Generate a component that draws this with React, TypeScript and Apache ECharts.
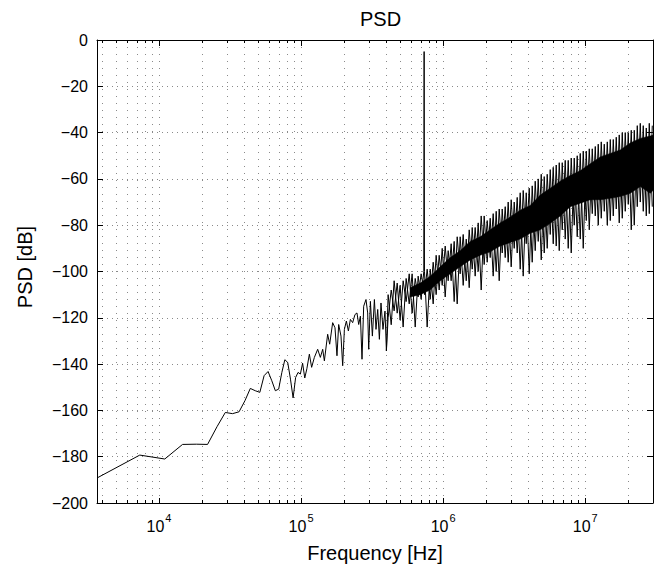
import React, { useEffect, useRef } from 'react';
import * as echarts from 'echarts';

// FFT bin width (fs / N) and x-axis range in Hz
const BIN_HZ = 3662.1;
const F_MIN = 3662.1;
const F_MAX = 3.0e7;

// Low-frequency part: one value per FFT bin (bin index k, f = k * BIN_HZ)
const lowBinIndex = [1, 2, 3, 4, 5, 6, 7, 8, 9, 10, 11, 12, 13, 14, 15, 16, 17, 18, 19, 20, 21, 22, 23, 24, 25, 26, 27, 28, 29, 30];
const lowBinDb = [-189.2, -179.3, -181.0, -174.7, -174.6, -174.7, -167.0, -160.9, -161.4, -160.6, -155.8, -150.5, -151.5, -152.2, -145.0, -143.2, -147.2, -151.5, -150.8, -143.6, -138.1, -139.3, -146.5, -154.6, -145.8, -143.6, -144.3, -139.6, -146.0, -142.0];

// Mid part (~1.1e5 .. 4e5 Hz)
const midFreqHz = [114400, 118700, 124100, 130900, 136700, 142000, 145900, 153900, 159000, 166900, 173300, 179000, 184000, 191000, 196300, 201800, 208400, 215300, 222400, 230800, 239600, 247500, 254500, 261600, 268500, 275900, 286400, 294400, 299300, 307600, 317700, 328200, 336900, 346300, 355900, 365300, 377300, 389700, 398700];
const midDb = [-135.7, -141.4, -137.1, -133.6, -137.1, -133.6, -138.6, -127.1, -131.4, -122.1, -124.3, -136.4, -122.9, -127.9, -140.7, -125.0, -121.4, -125.7, -120.7, -122.1, -118.6, -117.9, -122.9, -119.3, -137.9, -115.0, -112.1, -117.9, -133.6, -112.9, -127.9, -112.1, -125.0, -116.4, -129.3, -113.6, -125.0, -117.1, -134.3];

// Dense noisy part (>= 4e5 Hz): peaks / troughs of the trace, incl. the tone at ~735 kHz
const bandFreqHz = [410000, 431000, 452000, 475000, 498000, 523000, 549000, 577000, 605000, 636000, 667000, 700000, 731000, 735000, 739000, 772000, 811000, 851000, 893000, 938000, 985000, 1034000, 1085000, 1139000, 1196000, 1256000, 1318000, 1384000, 1454000, 1526000, 1602000, 1681000, 1765000, 1853000, 1945000, 2042000, 2144000, 2251000, 2363000, 2481000, 2605000, 2735000, 2870000, 3013000, 3164000, 3322000, 3487000, 3661000, 3844000, 4036000, 4236000, 4447000, 4670000, 4903000, 5146000, 5402000, 5672000, 5955000, 6251000, 6564000, 6892000, 7234000, 7594000, 7972000, 8371000, 8787000, 9226000, 9686000, 10170000, 10680000, 11210000, 11770000, 12350000, 12970000, 13620000, 14300000, 15010000, 15760000, 16540000, 17360000, 18230000, 19130000, 20090000, 21090000, 22140000, 23250000, 24410000, 25620000, 26900000, 28240000, 29650000];
const bandDbA = [-110, -123, -104, -118, -106, -124, -103, -114, -101, -124, -102, -112, -100, -5, -100, -124, -99, -114, -93, -108, -90, -111, -91, -104, -87, -114, -85, -106, -86, -107, -81, -102, -79, -108, -76, -96, -77, -102, -74, -104, -73, -94, -70, -98, -70, -92, -66, -102, -66, -101, -63, -91, -60, -95, -59, -90, -56, -88, -54, -91, -53, -86, -52, -92, -51, -85, -49, -90, -48, -82, -47, -76, -45, -77, -45, -80, -43, -76, -42, -79, -40, -74, -40, -82, -39, -72, -36, -74, -38, -75, -37];
const bandDbB = [-120, -108, -117, -105, -121, -104, -113, -101, -118, -103, -111, -101, -108, -104, -110, -99, -112, -96, -110, -93, -106, -89, -104, -88, -113, -85, -101, -84, -104, -82, -99, -81, -100, -76, -97, -78, -94, -75, -100, -73, -92, -72, -96, -69, -90, -68, -99, -65, -88, -64, -96, -61, -87, -58, -92, -58, -84, -55, -89, -53, -82, -52, -90, -51, -80, -50, -86, -48, -78, -47, -75, -46, -80, -44, -74, -44, -78, -43, -73, -41, -77, -40, -71, -39, -80, -37, -70, -37, -76, -36, -72];

// Solid core of the noise band (upper / lower edge)
const coreFreqHz = [586000, 689000, 811000, 953000, 1121000, 1318000, 1551000, 1823000, 2144000, 2519000, 2966000, 3487000, 4102000, 4824000, 5672000, 6673000, 7846000, 9226000, 10850000, 12770000, 15010000, 17650000, 20760000, 24410000, 28710000, 30000000];
const coreTopDb = [-107, -105, -102, -98, -94, -91, -87, -85, -82, -79, -76.5, -73.5, -71.5, -67, -64, -61, -58.5, -56.5, -53.5, -50.5, -49, -47.5, -44.5, -42.5, -41.5, -41];
const coreBottomDb = [-111, -110, -108, -104, -101, -98, -95, -93, -91.5, -89, -87.5, -86, -83.5, -82, -79.2, -76, -72, -70.5, -69, -69, -68.4, -67.6, -66.2, -63.3, -66.2, -65];

// Axis ticks
const decadeExponents = [4, 5, 6, 7];
const minorMultipliers = [1, 2, 3, 4, 5, 6, 7, 8, 9];
const tickDecades = [3, 4, 5, 6, 7];
const yTicks = { min: -200, max: 0, step: 20 };

const FONT = "'Liberation Sans', Arial, Helvetica, sans-serif";
const GRID_DOT = '#8a8a8a';

export default function App() {
  const ref = useRef<HTMLDivElement>(null);

  useEffect(() => {
    if (!ref.current) return;
    const chart = echarts.init(ref.current, undefined, { renderer: 'svg' });

    const logMin = Math.log10(F_MIN);
    const logMax = Math.log10(F_MAX);

    const tickLogs: number[] = [];
    tickDecades.forEach((d) => {
      minorMultipliers.forEach((m) => {
        const v = Math.log10(m) + d;
        if (v >= logMin - 1e-9 && v <= logMax + 1e-9) tickLogs.push(v);
      });
    });

    const trace: number[][] = [];
    lowBinIndex.forEach((k, i) => trace.push([Math.log10(k * BIN_HZ), lowBinDb[i]]));
    midFreqHz.forEach((f, i) => trace.push([Math.log10(f), midDb[i]]));
    bandFreqHz.forEach((f, i) => trace.push([Math.log10(f), bandDbA[i]]));

    const traceB: number[][] = [[Math.log10(midFreqHz[midFreqHz.length - 1]), midDb[midDb.length - 1]]];
    bandFreqHz.forEach((f, i) => traceB.push([Math.log10(f), bandDbB[i]]));

    const coreData = coreFreqHz.map((f, i) => [Math.log10(f), coreTopDb[i], coreBottomDb[i]]);

    const xBase = (extra: any) => ({
      type: 'value',
      min: logMin,
      max: logMax,
      ...extra,
    });

    const yBase = (extra: any) => ({
      type: 'value',
      min: yTicks.min,
      max: yTicks.max,
      interval: yTicks.step,
      ...extra,
    });

    const gridRect = { left: 97, right: 9, top: 40, bottom: 64, containLabel: false };

    const lineSeries = (data: number[][]) => ({
      type: 'line',
      xAxisIndex: 0,
      yAxisIndex: 0,
      data,
      showSymbol: false,
      symbol: 'none',
      silent: true,
      lineStyle: { color: '#000', width: 1 },
    });

    chart.setOption({
      animation: false,
      backgroundColor: '#fff',
      title: {
        text: 'PSD',
        left: 355,
        top: 4,
        textStyle: { fontFamily: FONT, fontSize: 20, fontWeight: 'normal', color: '#000' },
      },
      grid: [gridRect, gridRect],
      xAxis: [
        xBase({
          gridIndex: 0,
          position: 'bottom',
          axisLine: { show: true, onZero: false, lineStyle: { color: '#000', width: 1 } },
          axisTick: { show: true, inside: true, length: 3, customValues: tickLogs, lineStyle: { color: '#000', width: 1 } },
          axisLabel: {
            show: true,
            customValues: decadeExponents,
            margin: 9,
            formatter: (v: number) => `{b|10}{s|${Math.round(v)}}`,
            rich: {
              b: { fontFamily: FONT, fontSize: 16, color: '#000', verticalAlign: 'bottom', lineHeight: 22 },
              s: { fontFamily: FONT, fontSize: 11, color: '#000', verticalAlign: 'top', lineHeight: 22, padding: [0, 0, 0, 1] },
            },
          },
          splitLine: { show: true, lineStyle: { color: GRID_DOT, width: 1, type: [1, 6] } },
          name: 'Frequency [Hz]',
          nameLocation: 'middle',
          nameGap: 40,
          nameTextStyle: { fontFamily: FONT, fontSize: 20, color: '#000' },
        }),
        xBase({
          gridIndex: 0,
          position: 'top',
          axisLine: { show: true, onZero: false, lineStyle: { color: '#000', width: 1 } },
          axisTick: { show: true, inside: true, length: 3, customValues: tickLogs, lineStyle: { color: '#000', width: 1 } },
          axisLabel: { show: false },
          splitLine: { show: false },
        }),
        xBase({
          gridIndex: 1,
          position: 'bottom',
          axisLine: { show: false, onZero: false },
          axisTick: { show: true, inside: true, length: 6, customValues: decadeExponents, lineStyle: { color: '#000', width: 1 } },
          axisLabel: { show: false },
          splitLine: { show: false },
        }),
        xBase({
          gridIndex: 1,
          position: 'top',
          axisLine: { show: false, onZero: false },
          axisTick: { show: true, inside: true, length: 6, customValues: decadeExponents, lineStyle: { color: '#000', width: 1 } },
          axisLabel: { show: false },
          splitLine: { show: false },
        }),
      ],
      yAxis: [
        yBase({
          gridIndex: 0,
          position: 'left',
          axisLine: { show: true, onZero: false, lineStyle: { color: '#000', width: 1 } },
          axisTick: { show: true, inside: true, length: 6, lineStyle: { color: '#000', width: 1 } },
          axisLabel: {
            margin: 9,
            fontFamily: FONT,
            fontSize: 16,
            color: '#000',
            formatter: (v: number) => (v === 0 ? '0' : '\u2212' + Math.abs(v)),
          },
          splitLine: { show: true, lineStyle: { color: GRID_DOT, width: 1, type: [1, 4] } },
          name: 'PSD [dB]',
          nameLocation: 'middle',
          nameGap: 62,
          nameTextStyle: { fontFamily: FONT, fontSize: 20, color: '#000', padding: [0, 0, 0, 9] },
        }),
        yBase({
          gridIndex: 0,
          position: 'right',
          axisLine: { show: true, onZero: false, lineStyle: { color: '#000', width: 1 } },
          axisTick: { show: true, inside: true, length: 6, lineStyle: { color: '#000', width: 1 } },
          axisLabel: { show: false },
          splitLine: { show: false },
        }),
        yBase({ gridIndex: 1, show: false }),
        yBase({ gridIndex: 1, show: false, position: 'right' }),
      ],
      series: [
        {
          type: 'custom',
          xAxisIndex: 0,
          yAxisIndex: 0,
          data: coreData,
          encode: { x: 0, y: [1, 2] },
          silent: true,
          renderItem: (params: any, api: any) => {
            if (params.dataIndex !== 0) return null;
            const top = coreFreqHz.map((f, i) => api.coord([Math.log10(f), coreTopDb[i]]));
            const bot = coreFreqHz.map((f, i) => api.coord([Math.log10(f), coreBottomDb[i]])).reverse();
            return {
              type: 'polygon',
              shape: { points: top.concat(bot) },
              style: { fill: '#000', stroke: '#000', lineWidth: 0.5 },
            };
          },
        },
        lineSeries(traceB),
        lineSeries(trace),
      ],
    });

    return () => chart.dispose();
  }, []);

  return (
    <div
      ref={ref}
      style={{ position: 'absolute', left: 0, top: 0, width: 662, height: 568, background: '#fff' }}
    />
  );
}
